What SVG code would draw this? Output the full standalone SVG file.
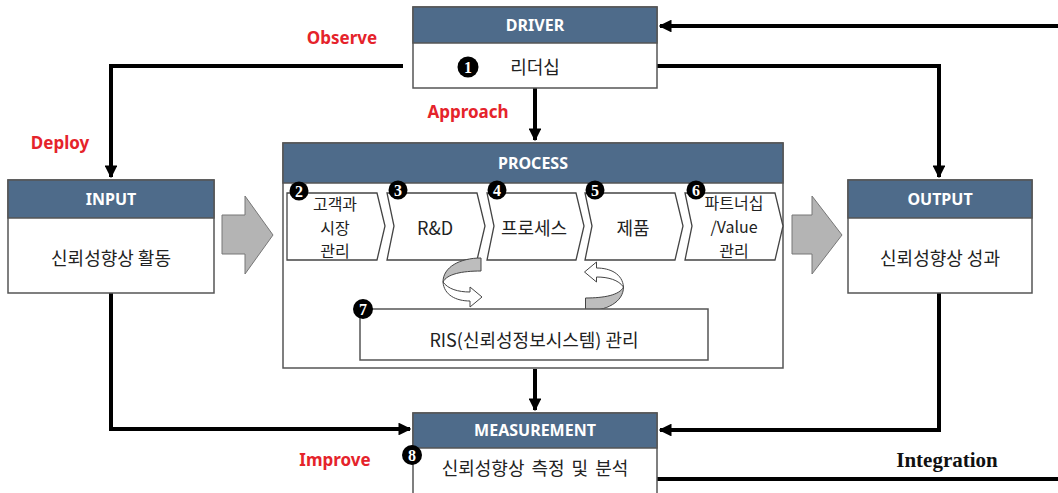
<svg xmlns="http://www.w3.org/2000/svg" width="1058" height="493" viewBox="0 0 1058 493">
<defs>
<marker id="ah" viewBox="0 0 10 10" refX="9" refY="5" markerWidth="3.2" markerHeight="3.2" orient="auto" markerUnits="strokeWidth">
<path d="M0,0 L10,5 L0,10 Z" fill="#000"/>
</marker>
<g id="curl">
<path d="M481,258 C460,258 443,267 443,282 C447,274 462,271 481,271 Z" fill="#bdbdbd" stroke="#444" stroke-width="1"/>
<path d="M443,282 C444,295 456,301 470,301 L470,307 L482,297 L470,287 L470,292 C458,292 448,289 443,282 Z" fill="#fff" stroke="#444" stroke-width="1"/>
</g>
</defs>
<style>
.box{fill:#fff;stroke:#555;stroke-width:1.5}
.hdr{fill:#4e6b8a;stroke:#555;stroke-width:1.5}
.ht{font-family:"Noto Sans","Open Sans",sans-serif;font-weight:bold;font-size:16px;fill:#fff;text-anchor:middle}
.kt{font-family:"Noto Sans CJK KR",sans-serif;font-size:18px;fill:#222;text-anchor:middle}
.ks{font-family:"Noto Sans CJK KR",sans-serif;font-size:16px;fill:#222;text-anchor:middle}
.red{font-family:"Noto Sans","Open Sans",sans-serif;font-weight:bold;font-size:17px;fill:#e5232b;text-anchor:middle}
.bd{fill:#000}
.bn{font-family:"Liberation Serif",serif;font-weight:bold;font-size:16px;fill:#fff;text-anchor:middle}
.ln{fill:none;stroke:#000;stroke-width:4}
.chev{fill:#fff;stroke:#444;stroke-width:1.3}
.garr{fill:#b4b4b4;stroke:#777;stroke-width:1}
</style>
<rect width="1058" height="493" fill="#fff"/>

<g id="connectors">
<path class="ln" d="M1058,26 L660,26" marker-end="url(#ah)"/>
<path class="ln" d="M403,66 L111,66 L111,177" marker-end="url(#ah)"/>
<path class="ln" d="M657,66 L939,66 L939,177" marker-end="url(#ah)"/>
<path class="ln" d="M535,88 L535,140" marker-end="url(#ah)"/>
<path class="ln" d="M535,369 L535,410" marker-end="url(#ah)"/>
<path class="ln" d="M111,293 L111,429 L410,429" marker-end="url(#ah)"/>
<path class="ln" d="M939,293 L939,430 L660,430" marker-end="url(#ah)"/>
<path class="ln" d="M657,479 L1058,479"/>
<path class="garr" d="M222,215 L245,215 L245,196 L273,235 L245,274 L245,254 L222,254 Z"/>
<path class="garr" d="M792,215 L812,215 L812,196 L842,235 L812,274 L812,254 L792,254 Z"/>
</g>

<g id="labels">
<text class="red" x="342" y="44">Observe</text>
<text class="red" x="468" y="118">Approach</text>
<text class="red" x="60" y="149">Deploy</text>
<text class="red" x="335" y="466">Improve</text>
<text x="947" y="467" font-family="Liberation Serif,serif" font-weight="bold" font-size="21" fill="#111" text-anchor="middle">Integration</text>
</g>

<g id="driver">
<rect class="box" x="413" y="7" width="244" height="81"/>
<rect class="hdr" x="413" y="7" width="244" height="36"/>
<text class="ht" x="535" y="31">DRIVER</text>
<circle class="bd" cx="468" cy="67" r="10.5"/>
<text class="bn" x="468" y="73">1</text>
<text class="kt" x="535" y="74">리더십</text>
</g>

<g id="input">
<rect class="box" x="8" y="180" width="206" height="113"/>
<rect class="hdr" x="8" y="180" width="206" height="38"/>
<text class="ht" x="111" y="205">INPUT</text>
<text class="kt" x="111" y="265">신뢰성향상 활동</text>
</g>

<g id="output">
<rect class="box" x="848" y="180" width="184" height="113"/>
<rect class="hdr" x="848" y="180" width="184" height="38"/>
<text class="ht" x="940" y="205">OUTPUT</text>
<text class="kt" x="940" y="265">신뢰성향상 성과</text>
</g>

<g id="process">
<rect class="box" x="283" y="143" width="500" height="225"/>
<rect class="hdr" x="283" y="143" width="500" height="40"/>
<text class="ht" x="533" y="169">PROCESS</text>
</g>

<g id="step2">
<path class="chev" d="M287,193 L377,193 L385,226 L377,260 L287,260 Z"/>
<text class="ks" x="335" y="210">고객과</text>
<text class="ks" x="335" y="233.5">시장</text>
<text class="ks" x="335" y="257">관리</text>
<circle class="bd" cx="299" cy="191" r="9.5"/>
<text class="bn" x="299" y="197">2</text>
</g>
<g id="step3">
<path class="chev" d="M387,193 L477,193 L485,226 L477,260 L387,260 L394,226 Z"/>
<text class="kt" x="435" y="235">R&amp;D</text>
<circle class="bd" cx="398" cy="190" r="9.5"/>
<text class="bn" x="398" y="196">3</text>
</g>
<g id="step4">
<path class="chev" d="M487,193 L576,193 L584,226 L576,260 L487,260 L494,226 Z"/>
<text class="kt" x="534" y="235">프로세스</text>
<circle class="bd" cx="497" cy="190" r="9.5"/>
<text class="bn" x="497" y="196">4</text>
</g>
<g id="step5">
<path class="chev" d="M585,193 L675,193 L683,226 L675,260 L585,260 L592,226 Z"/>
<text class="kt" x="633" y="235">제품</text>
<circle class="bd" cx="595" cy="190" r="9.5"/>
<text class="bn" x="595" y="196">5</text>
</g>
<g id="step6">
<path class="chev" d="M685,193 L775,193 L783,226 L775,260 L685,260 L692,226 Z"/>
<text class="ks" x="734" y="209">파트너십</text>
<text class="ks" x="734" y="233">/Value</text>
<text class="ks" x="734" y="256.5">관리</text>
<circle class="bd" cx="696" cy="190" r="9.5"/>
<text class="bn" x="696" y="196">6</text>
</g>

<g id="cycle">
<use href="#curl"/>
<use href="#curl" transform="translate(1066.5,569) scale(-1,-1)"/>
</g>

<g id="ris">
<rect class="box" x="360" y="309" width="348" height="51"/>
<text class="kt" x="534" y="347">RIS(신뢰성정보시스템) 관리</text>
<circle class="bd" cx="363" cy="309" r="10"/>
<text class="bn" x="363" y="315">7</text>
</g>

<g id="measurement">
<rect class="box" x="413" y="413" width="244" height="85"/>
<rect class="hdr" x="413" y="413" width="244" height="35"/>
<text class="ht" x="535" y="436">MEASUREMENT</text>
<text class="kt" x="535" y="475" font-size="19" word-spacing="3">신뢰성향상 측정 및 분석</text>
<circle class="bd" cx="412" cy="455" r="10"/>
<text class="bn" x="412" y="461">8</text>
</g>
</svg>
